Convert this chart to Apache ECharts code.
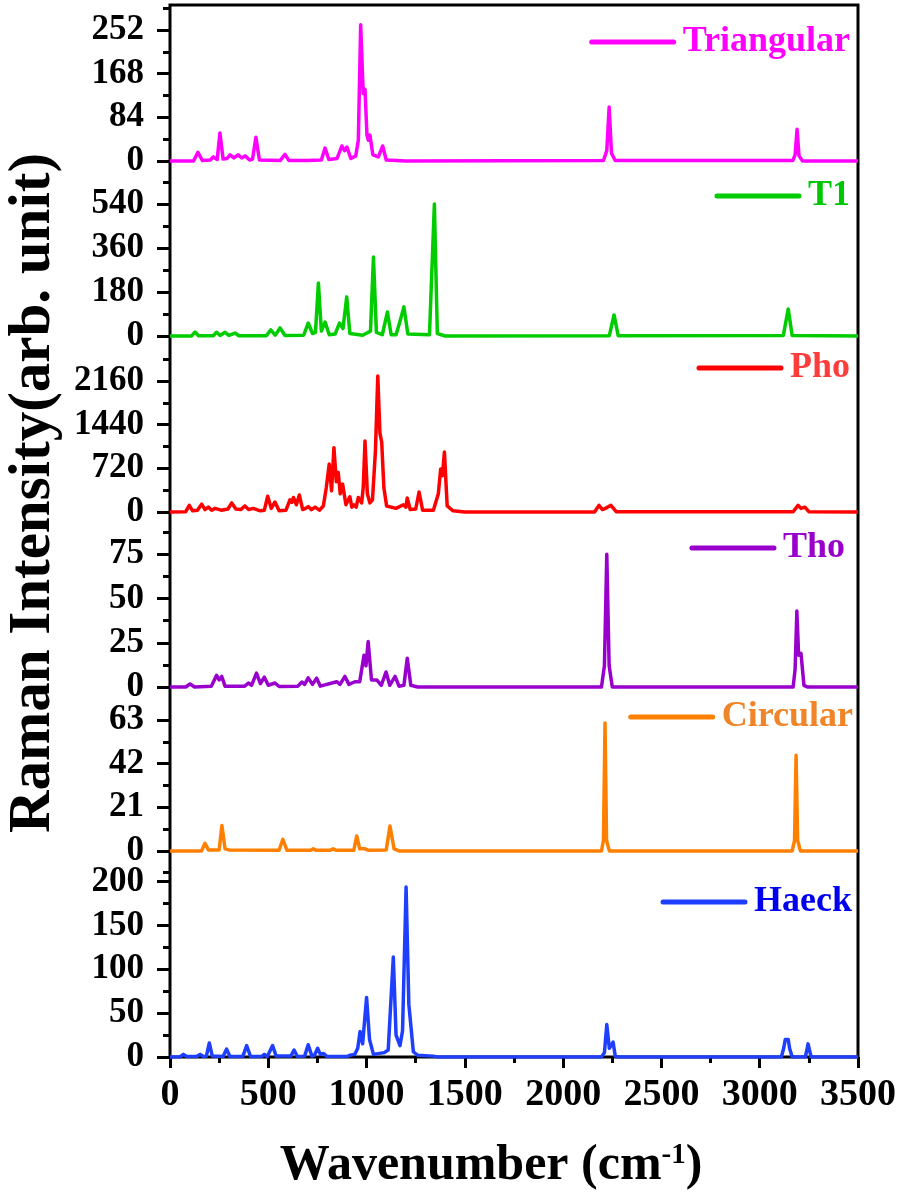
<!DOCTYPE html>
<html>
<head>
<meta charset="utf-8">
<script src="https://cdn.jsdelivr.net/npm/echarts@6/dist/echarts.min.js"></script>
<style>
  html, body { margin: 0; padding: 0; background: #fff; }
  #chart { width: 900px; height: 1192px; }
</style>
</head>
<body>
<div id="chart"></div>
<script>
// panel order: top to bottom
const panelNames = ['Triangular', 'T1', 'Pho', 'Tho', 'Circular', 'Haeck'];

// spectra, [wavenumber, intensity]
const triangular = [[0,0],[120,0],[142,17],[165,1],[205,2],[220,8],[240,3],[254,54],[270,4],[290,5],[305,12],[325,6],[346,12],[365,6],[382,10],[405,2],[420,4],[437,46],[455,2],[560,1],[585,13],[605,1],[700,1],[770,2],[789,25],[808,3],[850,5],[874,29],[888,20],[900,27],[920,5],[945,10],[958,40],[970,262],[983,130],[992,138],[1002,50],[1009,40],[1017,50],[1032,12],[1060,8],[1082,29],[1100,2],[1200,0],[2205,1],[2222,20],[2234,104],[2246,15],[2265,1],[3168,1],[3180,12],[3190,61],[3200,10],[3218,0],[3500,0]];
const t1 = [[0,0],[110,0],[127,16],[145,1],[220,1],[237,15],[255,2],[280,15],[300,2],[331,12],[350,1],[490,1],[513,25],[535,3],[560,33],[585,2],[680,3],[703,53],[725,10],[740,15],[755,217],[770,20],[789,57],[810,5],[840,8],[862,53],[880,30],[899,160],[915,10],[980,3],[1020,20],[1035,323],[1050,15],[1080,5],[1106,98],[1125,5],[1150,5],[1170,60],[1190,119],[1210,8],[1320,5],[1345,540],[1360,10],[1400,0],[2235,1],[2259,86],[2280,1],[3120,2],[3145,110],[3165,2],[3500,0]];
const pho = [[0,0],[80,5],[98,110],[115,20],[140,30],[161,130],[178,40],[195,80],[212,30],[229,60],[260,30],[295,50],[314,150],[335,50],[360,40],[381,100],[400,40],[423,60],[460,20],[480,30],[497,260],[515,60],[534,165],[555,20],[590,30],[610,200],[620,160],[628,240],[643,120],[658,280],[675,40],[690,60],[703,90],[720,40],[738,80],[760,30],[780,100],[795,400],[810,790],[822,350],[834,1060],[846,500],[856,650],[866,300],[878,460],[895,120],[915,250],[925,80],[936,120],[947,80],[958,240],[975,150],[983,400],[992,1170],[1004,300],[1017,150],[1030,200],[1045,1000],[1057,2240],[1068,1300],[1077,1150],[1088,400],[1102,100],[1150,60],[1187,120],[1200,80],[1207,230],[1222,40],[1250,50],[1267,330],[1285,30],[1340,30],[1365,300],[1377,710],[1386,600],[1396,990],[1410,100],[1440,20],[1500,0],[2160,0],[2182,110],[2200,40],[2215,60],[2243,110],[2270,5],[3170,5],[3195,110],[3210,60],[3230,80],[3250,5],[3500,0]];
const tho = [[0,0],[80,0],[102,1.7],[125,0],[210,0.5],[237,6.6],[250,4],[263,6],[280,0.5],[380,0.5],[399,2.3],[415,1],[440,7.9],[460,2],[480,5.6],[500,1],[534,2.3],[555,0.3],[650,0.5],[671,2.8],[685,1.5],[703,5.2],[725,1.5],[746,5],[765,0.5],[848,3],[865,1.5],[890,6],[910,1.5],[941,3],[965,3],[987,18],[997,12],[1008,25.7],[1025,4],[1052,4],[1075,1],[1099,8.5],[1118,1],[1145,6],[1165,0.5],[1190,1],[1207,16.3],[1225,1],[1260,0],[2195,0],[2210,12],[2222,75],[2234,12],[2250,0],[3170,0],[3180,10],[3189,43],[3198,18],[3210,19],[3225,1],[3245,0],[3500,0]];
const circular = [[0,0],[160,0],[178,3.7],[195,0.5],[250,0.5],[264,12.2],[280,1],[300,0.5],[555,0.3],[574,5.6],[595,0.3],[715,0.3],[729,1],[745,0.3],[815,0.3],[830,1],[845,0.3],[935,0.3],[950,7.2],[965,1],[992,1],[1010,0.3],[1100,0.5],[1119,12],[1140,1],[1165,0],[2195,0],[2205,5],[2213,61.6],[2221,5],[2235,0],[3165,0],[3177,5],[3185,46],[3193,5],[3207,0],[3500,0]];
const haeck = [[0,0],[50,0],[68,3],[85,0.5],[135,0.5],[153,3],[170,0.5],[185,1],[200,16],[215,1],[270,0.5],[288,9],[305,0.5],[370,0.5],[390,13],[410,0.5],[465,0.5],[480,3],[495,0.5],[505,1],[522,13],[540,1],[615,1],[631,8],[648,0.5],[685,1],[703,14],[722,1],[735,2],[751,10],[765,3],[780,4],[800,0.5],[900,0.5],[915,2],[940,3],[955,10],[967,29],[980,15],[1000,68],[1015,20],[1035,3],[1090,5],[1110,8],[1136,114],[1150,25],[1170,13],[1183,30],[1201,194],[1215,60],[1238,6],[1260,2],[1340,1],[1360,0],[2195,0],[2210,5],[2222,37],[2235,10],[2254,17],[2265,1],[2280,0],[3110,0],[3122,10],[3130,20],[3138,18],[3145,20],[3152,10],[3165,0],[3232,0],[3240,8],[3246,15],[3253,8],[3262,0],[3500,0]];
const spectra = [triangular, t1, pho, tho, circular, haeck];

// y ranges and tick values per panel
const yRanges = [[-37, 300], [-80.6, 637], [-313, 2577], [-10.9, 88.2], [-14.8, 69.6], [0, 200]];
const yMajor = [[0,84,168,252],[0,180,360,540],[0,720,1440,2160],[0,25,50,75],[0,21,42,63],[0,50,100,150,200]];
const yMinor = [[42,126,210,294],[90,270,450,630],[360,1080,1800,2520],[12.5,37.5,62.5,87.5],[-10.5,10.5,31.5,52.5],[25,75,125,175]];
const xMin = 0, xMax = 3500, xStep = 500;

const lineColors = ['#FF00FF', '#00CC00', '#FF0000', '#9900CC', '#FF8000', '#1F3FFF'];
const textColors = ['#FF00FF', '#00C800', '#FF3C3C', '#9900CC', '#F08428', '#0000EE'];

const font = 'Liberation Serif, Times New Roman, serif';
const plotLeft = 170, plotTop = 5, plotW = 688, plotH = 1052;
const panelH = plotH / 6;
// legend line centre (y) and text right edge
const legendY = [43, 197, 369, 549, 718, 903];
const legendRight = [50, 50, 50, 55, 47, 48];

const myChart = echarts.init(document.getElementById('chart'));

let grids = [], xAxes = [], yAxes = [], series = [], legends = [];
for (let i = 0; i < 6; i++) {
  let last = i === 5;
  grids.push({ left: plotLeft, top: plotTop + i * panelH, width: plotW, height: panelH });
  xAxes.push({
    gridIndex: i, type: 'value', min: xMin, max: xMax, interval: xStep,
    show: last,
    axisLine: { show: false },
    splitLine: { show: false },
    axisTick: { show: true, length: 11, lineStyle: { width: 3, color: '#000' } },
    minorTick: { show: true, splitNumber: 2, length: 6, lineStyle: { width: 3, color: '#000' } },
    axisLabel: { formatter: v => String(v), fontFamily: font, fontWeight: 'bold', fontSize: 38, color: '#000', margin: 19 }
  });
  // major ticks + labels
  yAxes.push({
    gridIndex: i, type: 'value', position: 'left', min: yRanges[i][0], max: yRanges[i][1],
    axisLine: { show: false },
    splitLine: { show: false },
    axisTick: { show: true, length: 13, customValues: yMajor[i], lineStyle: { width: 3, color: '#000' } },
    axisLabel: { customValues: yMajor[i], formatter: v => String(v), fontFamily: font, fontWeight: 'bold', fontSize: 35, color: '#000', margin: 26 }
  });
  // minor ticks
  yAxes.push({
    gridIndex: i, type: 'value', position: 'left', min: yRanges[i][0], max: yRanges[i][1],
    axisLine: { show: false },
    splitLine: { show: false },
    axisTick: { show: true, length: 7, customValues: yMinor[i], lineStyle: { width: 3, color: '#000' } },
    axisLabel: { show: false }
  });
  series.push({
    name: panelNames[i], type: 'line', xAxisIndex: i, yAxisIndex: 2 * i,
    data: spectra[i], showSymbol: false, symbol: 'none', animation: false,
    lineStyle: { width: 3.5, color: lineColors[i], join: 'round' },
    itemStyle: { color: lineColors[i] }
  });
  legends.push({
    show: true,
    data: [panelNames[i]], right: legendRight[i], top: legendY[i] - 19,
    padding: 0, itemWidth: 82, itemHeight: 14,
    lineStyle: { width: 5, cap: 'round' },
    itemStyle: { opacity: 0 }, // hide the dot, keep the line
    textStyle: { fontFamily: font, fontWeight: 'bold', fontSize: 36, color: textColors[i], padding: [0, 0, 0, 4] }
  });
}
// frame around the whole stack
grids.push({ left: plotLeft, top: plotTop, width: plotW, height: plotH, show: true, borderColor: '#000', borderWidth: 3, backgroundColor: 'transparent' });
xAxes.push({ gridIndex: 6, type: 'value', show: false, min: 0, max: 1 });
yAxes.push({ gridIndex: 6, type: 'value', show: false, min: 0, max: 1 });

let option = {
  animation: false,
  backgroundColor: '#fff',
  grid: grids,
  xAxis: xAxes,
  yAxis: yAxes,
  legend: legends,
  series: series,
  graphic: [
    {
      type: 'text', x: 34, y: 493, rotation: Math.PI / 2,
      style: { text: 'Raman Intensity(arb. unit)', fontFamily: font, fontWeight: 'bold', fontSize: 59, fill: '#000', align: 'center', verticalAlign: 'middle' }
    },
    {
      type: 'text', x: 491, y: 1166,
      style: {
        text: '{m|Wavenumber (cm}{s|-1}{m|)}',
        align: 'center', verticalAlign: 'middle',
        rich: {
          m: { fontFamily: font, fontWeight: 'bold', fontSize: 50, fill: '#000', verticalAlign: 'bottom' },
          s: { fontFamily: font, fontWeight: 'bold', fontSize: 29, fill: '#000', verticalAlign: 'top' }
        }
      }
    }
  ]
};
myChart.setOption(option);
</script>
</body>
</html>
